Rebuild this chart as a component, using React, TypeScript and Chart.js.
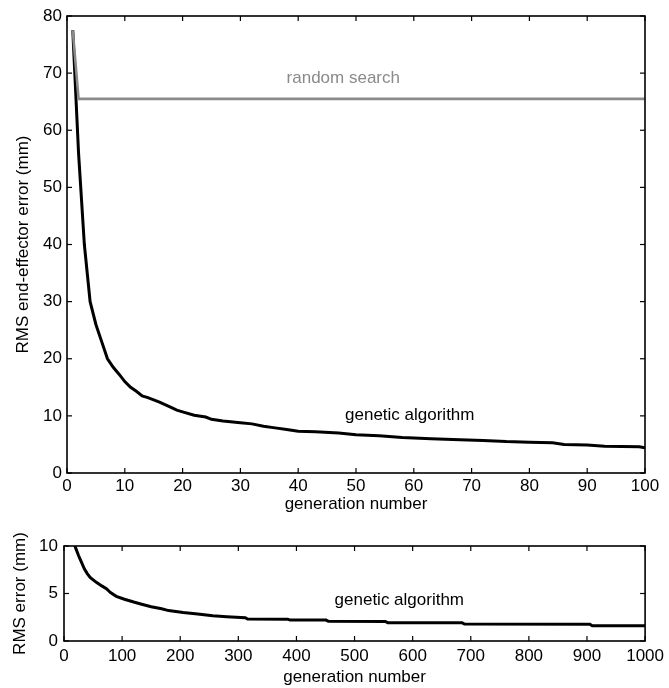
import React, { useEffect, useRef } from "react";
import { Chart, registerables } from "chart.js";

Chart.register(...registerables);

const FONT = '"Liberation Sans", Arial, Helvetica, sans-serif';

// ---- Top panel data (generations 1..100) ----
const topGenerations = [1, 2, 3, 4, 5, 6, 7, 8, 9, 10, 11, 12, 13, 14, 16, 18, 19, 20, 22, 24, 25, 27, 30, 32, 34, 36, 38, 40, 43, 47, 50, 54, 58, 63, 68, 72, 76, 80, 84, 86, 90, 93, 99, 100];
const topGaErrors = [77.5, 56, 40, 30, 26, 23, 20, 18.5, 17.3, 16, 15, 14.3, 13.5, 13.2, 12.4, 11.5, 11, 10.7, 10.1, 9.8, 9.4, 9.1, 8.8, 8.6, 8.2, 7.9, 7.6, 7.3, 7.2, 7.0, 6.7, 6.5, 6.2, 6.0, 5.8, 5.7, 5.5, 5.4, 5.3, 5.0, 4.9, 4.7, 4.6, 4.4];
const randomGenerations = [1, 2, 100];
const randomErrors = [77.5, 65.5, 65.5];

// ---- Bottom panel data (generations 0..1000) ----
const bottomGenerations = [17, 20, 25, 30, 35, 40, 45, 55, 65, 73, 80, 90, 104, 120, 132, 150, 168, 180, 205, 230, 256, 280, 312, 316, 385, 389, 451, 455, 553, 557, 685, 689, 905, 909, 1000];
const bottomGaErrors = [10.4, 9.8, 9.0, 8.3, 7.6, 7.1, 6.7, 6.2, 5.8, 5.5, 5.1, 4.7, 4.4, 4.1, 3.9, 3.6, 3.4, 3.2, 3.0, 2.85, 2.65, 2.55, 2.45, 2.32, 2.3, 2.2, 2.2, 2.07, 2.05, 1.93, 1.92, 1.78, 1.76, 1.6, 1.6];

// ---- Axis / text ----
const topXTitle = "generation number";
const topYTitle = "RMS end-effector error (mm)";
const bottomXTitle = "generation number";
const bottomYTitle = "RMS error (mm)";
const randomLabel = "random search";
const gaLabel = "genetic algorithm";

const frameTicksPlugin = {
  id: "frameTicks",
  afterDatasetsDraw(chart: any, _args: any, opts: any) {
    const { ctx, chartArea, scales } = chart;
    const { left, right, top, bottom } = chartArea;
    const x = scales.x;
    const y = scales.y;
    const L = 5;
    ctx.save();
    ctx.strokeStyle = "#000";
    ctx.lineWidth = 1.2;
    const seg = (x1: number, y1: number, x2: number, y2: number) => {
      ctx.beginPath();
      ctx.moveTo(x1, y1);
      ctx.lineTo(x2, y2);
      ctx.stroke();
    };
    x.ticks.forEach((t: any) => {
      const px = x.getPixelForValue(t.value);
      seg(px, bottom, px, bottom - L);
      seg(px, top, px, top + L);
    });
    y.ticks.forEach((t: any) => {
      const py = y.getPixelForValue(t.value);
      seg(left, py, left + L, py);
      seg(right, py, right - L, py);
    });
    ctx.lineWidth = 1.6;
    ctx.strokeRect(left, top, right - left, bottom - top);
    (opts.labels || []).forEach((l: any) => {
      ctx.fillStyle = l.color;
      ctx.font = `17px ${FONT}`;
      ctx.textAlign = "center";
      ctx.textBaseline = "middle";
      ctx.fillText(l.text, x.getPixelForValue(l.x), y.getPixelForValue(l.y));
    });
    ctx.restore();
  },
};

function makeScales(cfg: any) {
  return {
    x: {
      type: "linear",
      min: cfg.xMin,
      max: cfg.xMax,
      ticks: {
        stepSize: cfg.xStep, padding: cfg.xTickPad, color: "#000", font: { size: 17, family: FONT },
        maxRotation: 0, autoSkip: false, callback: (v: any) => String(v),
      },
      grid: { display: false, drawTicks: false },
      border: { display: false },
      title: { display: true, text: cfg.xTitle, color: "#000", font: { size: 17, family: FONT }, padding: { top: 0, bottom: cfg.xTitlePad } },
      afterFit: (s: any) => { s.height = cfg.xHeight; },
    },
    y: {
      type: "linear",
      min: cfg.yMin,
      max: cfg.yMax,
      ticks: { stepSize: cfg.yStep, padding: cfg.yTickPad, color: "#000", font: { size: 17, family: FONT }, autoSkip: false, callback: (v: any) => String(v) },
      grid: { display: false, drawTicks: false },
      border: { display: false },
      title: { display: true, text: cfg.yTitle, color: "#000", font: { size: 17, family: FONT }, padding: { top: cfg.yTitlePad, bottom: 0 } },
      afterFit: (s: any) => { s.width = cfg.yWidth; },
    },
  };
}

function PanelChart(props: any) {
  const ref = useRef<HTMLCanvasElement>(null);
  useEffect(() => {
    if (!ref.current) return;
    const chart = new Chart(ref.current, {
      type: "line",
      data: { datasets: props.datasets },
      options: {
        responsive: false,
        animation: false,
        devicePixelRatio: 1,
        layout: { padding: props.padding },
        plugins: {
          legend: { display: false },
          tooltip: { enabled: false },
          frameTicks: { labels: props.labels },
        } as any,
        scales: makeScales(props.scaleCfg) as any,
        elements: { point: { radius: 0 }, line: { tension: 0 } },
      },
      plugins: [frameTicksPlugin],
    });
    return () => chart.destroy();
  }, []);
  return (
    <canvas
      ref={ref}
      width={props.width}
      height={props.height}
      style={{ position: "absolute", left: 0, top: props.top, width: props.width, height: props.height, display: "block" }}
    />
  );
}

export default function App() {
  const topDatasets = [
    {
      data: randomGenerations.map((g, i) => ({ x: g, y: randomErrors[i] })),
      borderColor: "#8a8a8a",
      borderWidth: 2.6,
      pointRadius: 0,
      fill: false,
    },
    {
      data: topGenerations.map((g, i) => ({ x: g, y: topGaErrors[i] })),
      borderColor: "#000",
      borderWidth: 3,
      pointRadius: 0,
      fill: false,
    },
  ];
  const bottomDatasets = [
    {
      data: bottomGenerations.map((g, i) => ({ x: g, y: bottomGaErrors[i] })),
      borderColor: "#000",
      borderWidth: 3,
      pointRadius: 0,
      fill: false,
      clip: 0,
    },
  ];
  return (
    <div style={{ position: "absolute", left: 0, top: 0, width: 669, height: 688 }}>
      <PanelChart
        top={0}
        width={669}
        height={520}
        datasets={topDatasets}
        padding={{ left: 0, right: 24, top: 16, bottom: 0 }}
        labels={[
          { text: randomLabel, x: 47.8, y: 69.1, color: "#8a8a8a" },
          { text: gaLabel, x: 59.3, y: 10.1, color: "#000" },
        ]}
        scaleCfg={{
          xMin: 0, xMax: 100, xStep: 10, xTickPad: 3, xTitle: topXTitle, xTitlePad: 5, xHeight: 47,
          yMin: 0, yMax: 80, yStep: 10, yTickPad: 5, yTitle: topYTitle, yTitlePad: 13, yWidth: 67,
        }}
      />
      <PanelChart
        top={520}
        width={669}
        height={168}
        datasets={bottomDatasets}
        padding={{ left: 0, right: 21, top: 26, bottom: 0 }}
        labels={[{ text: gaLabel, x: 577, y: 4.3, color: "#000" }]}
        scaleCfg={{
          xMin: 0, xMax: 1000, xStep: 100, xTickPad: 5, xTitle: bottomXTitle, xTitlePad: 0, xHeight: 47,
          yMin: 0, yMax: 10, yStep: 5, yTickPad: 6, yTitle: bottomYTitle, yTitlePad: 10, yWidth: 64,
        }}
      />
    </div>
  );
}
